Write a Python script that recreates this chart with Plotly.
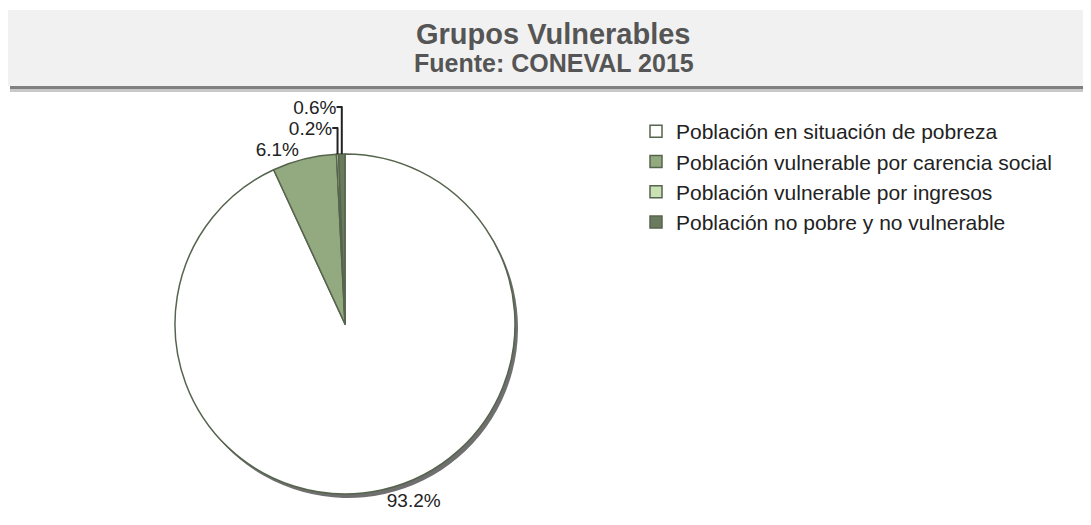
import plotly.graph_objects as go

labels = ['Población en situación de pobreza',
          'Población vulnerable por carencia social',
          'Población vulnerable por ingresos',
          'Población no pobre y no vulnerable']
values = [93.2, 6.1, 0.2, 0.6]
colors = ['#ffffff', '#93aa80', '#c9e1b3', '#6a7b5d']

W, H = 1091, 525
cx, cy, r = 337, 316, 170

def dom(dx=0, dy=0):
    return dict(x=[(cx - r + dx) / W, (cx + r + dx) / W],
                y=[(H - cy - r - dy) / H, (H - cy + r - dy) / H])

fig = go.Figure()

# sombra del pastel
fig.add_trace(go.Pie(labels=labels, values=values, sort=False, direction='clockwise',
                     rotation=0, domain=dom(3, 4), showlegend=False, textinfo='none',
                     hoverinfo='skip',
                     marker=dict(colors=['#6f6f6f'] * 4, line=dict(width=0))))

fig.add_trace(go.Pie(labels=labels, values=values, sort=False, direction='clockwise',
                     rotation=0, domain=dom(), texttemplate='%{value:.1f}%',
                     textposition='outside',
                     textfont=dict(size=19, color='#222222', family='Liberation Sans, Arial'),
                     marker=dict(colors=colors, line=dict(color='#56644e', width=1.5))))

fig.update_layout(
    width=W, height=H,
    margin=dict(l=0, r=0, t=0, b=0),
    paper_bgcolor='white',
    font=dict(family='Liberation Sans, Arial', color='#222222'),
    legend=dict(x=628 / W, y=1 - 103 / H, xanchor='left', yanchor='top',
                font=dict(size=21, color='#222222'), tracegroupgap=0),
    shapes=[
        dict(type='rect', xref='paper', yref='paper', x0=2 / W, x1=1,
             y0=1 - 84 / H, y1=1 - 78 / H, fillcolor='#c8c8c8', line=dict(width=0)),
        dict(type='rect', xref='paper', yref='paper', x0=2 / W, x1=1,
             y0=1 - 81 / H, y1=1 - 78 / H, fillcolor='#808080', line=dict(width=0)),
        dict(type='rect', xref='paper', yref='paper', x0=0, x1=1,
             y0=1 - 78 / H, y1=1 - 2 / H, fillcolor='#f1f1f1', line=dict(width=0)),
    ],
    annotations=[
        dict(text='<b>Grupos Vulnerables</b>', x=0.5, y=1 - 26 / H, xref='paper', yref='paper',
             yanchor='middle', showarrow=False,
             font=dict(size=29, color='#555555', family='Liberation Sans, Arial')),
        dict(text='<b>Fuente: CONEVAL 2015</b>', x=0.5, y=1 - 55 / H, xref='paper', yref='paper',
             yanchor='middle', showarrow=False,
             font=dict(size=25, color='#555555', family='Liberation Sans, Arial')),
    ],
)

fig.write_html("out.html")
